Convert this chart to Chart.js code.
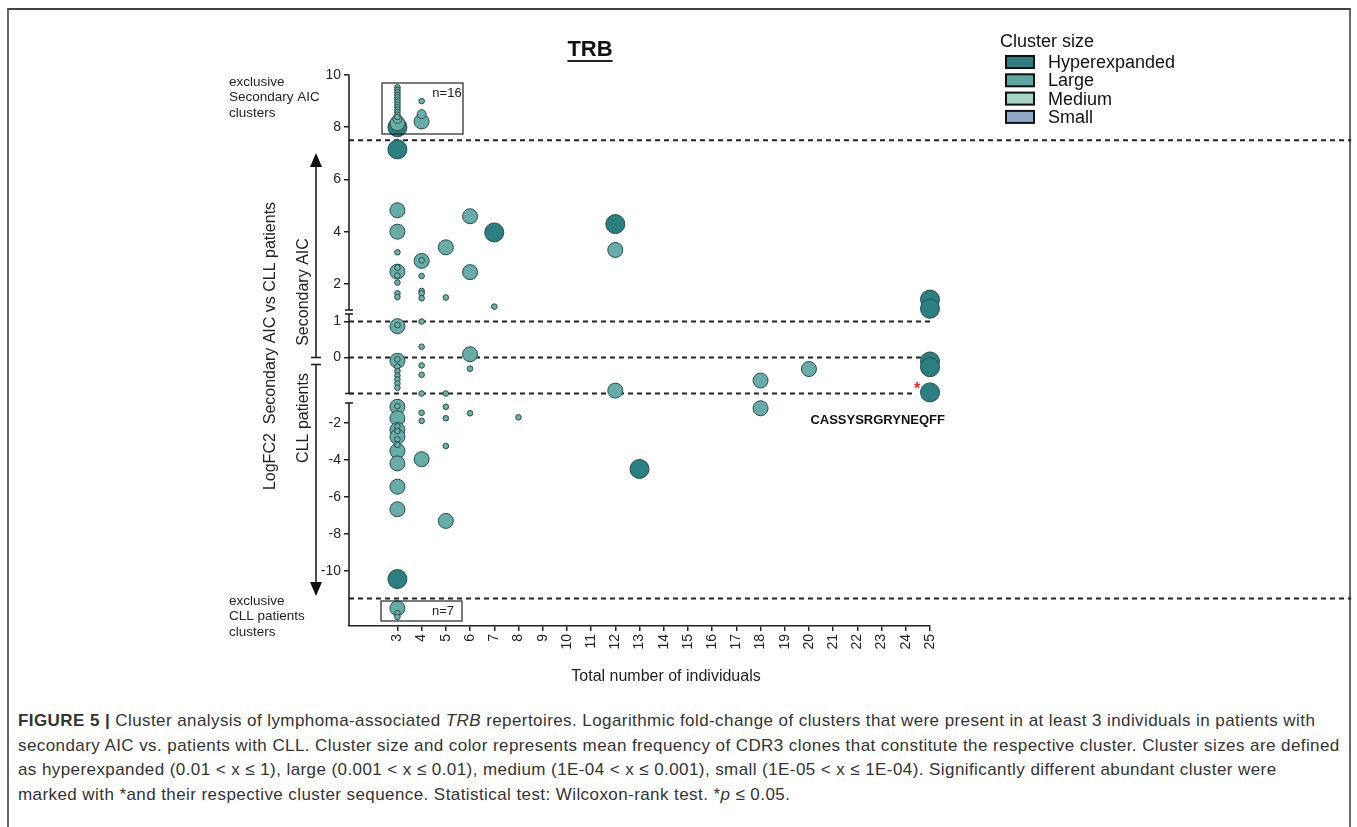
<!DOCTYPE html>
<html>
<head>
<meta charset="utf-8">
<script src="https://cdn.jsdelivr.net/npm/chart.js@4.4.1/dist/chart.umd.min.js"></script>
<style>
  body { margin: 0; background: #fff; width: 1357px; height: 827px; position: relative; overflow: hidden; font-family: 'Liberation Sans', Arial, sans-serif; }
  #frame { position: absolute; left: 7px; top: 8px; width: 1344px; height: 900px; border: 2px solid #6a6a6a; border-top-color: #444; box-sizing: border-box; }
  #wrap { position: absolute; left: 0; top: 0; width: 1357px; height: 705px; }
  #caption { position: absolute; left: 18px; top: 709px; font-size: 17px; letter-spacing: 0.42px; line-height: 24.7px; color: #333; white-space: nowrap; }
</style>
</head>
<body>
<div id="frame"></div>
<div id="wrap"><canvas id="chart"></canvas></div>
<div id="caption">
  <b>FIGURE 5 |</b> Cluster analysis of lymphoma-associated <i>TRB</i> repertoires. Logarithmic fold-change of clusters that were present in at least 3 individuals in patients with<br>
  secondary AIC vs. patients with CLL. Cluster size and color represents mean frequency of CDR3 clones that constitute the respective cluster. Cluster sizes are defined<br>
  as hyperexpanded (0.01 &lt; x ≤ 1), large (0.001 &lt; x ≤ 0.01), medium (1E-04 &lt; x ≤ 0.001), small (1E-05 &lt; x ≤ 1E-04). Significantly different abundant cluster were<br>
  marked with *and their respective cluster sequence. Statistical test: Wilcoxon-rank test. *<i>p</i> ≤ 0.05.
</div>
<script>
// x = total number of individuals, y = LogFC2 (secondary AIC vs CLL)
const hyperX = [3, 3, 7, 12, 13, 3, 25, 25, 25, 25, 25]
const hyperY = [8.0, 7.15, 3.97, 4.29, -4.5, -10.45, 1.4, 1.05, -0.11, -0.27, -0.97]

const largeX = [3, 3, 3, 3, 3, 3, 3, 3, 3, 3, 3, 3, 3, 3, 3, 4, 4, 4, 5, 5, 6, 6, 6, 12, 12, 18, 18, 20]
const largeY = [8.15, 4.82, 4.0, 2.47, 0.87, -0.09, -1.14, -1.76, -2.39, -2.76, -3.53, -4.2, -5.46, -6.68, -12.03,
                8.22, 2.88, -3.97, 3.4, -7.31, 4.59, 2.45, 0.09, 3.3, -0.92, -0.64, -1.22, -0.32]

const mediumX = [3, 4]
const mediumY = [8.32, 8.5]

const smallX = [3, 3, 3, 3, 3, 3, 3, 3, 3, 3, 3, 3, 3,
                3, 3, 3, 3, 3, 3,
                3, 3, 3, 3, 3, 3, 3, 3,
                3, 3, 3, 3, 3, 3, 3,
                4, 4, 4, 4, 4, 4, 4, 4, 4, 4, 4, 4, 4,
                5, 5, 5, 5, 5, 6, 6, 7, 8]
const smallY = [9.53, 9.43, 9.34, 9.24, 9.15, 9.05, 8.96, 8.86, 8.77, 8.67, 8.58, 8.48, 8.39,
                3.21, 2.62, 2.32, 2.05, 1.64, 1.5,
                0.9, -0.05, -0.25, -0.38, -0.5, -0.61, -0.72, -0.84,
                -1.1, -2.2, -2.45, -2.9, -3.2, -12.3, -12.5,
                9.0, 2.9, 2.3, 1.73, 1.64, 1.45, 1.0, 0.3, -0.22, -0.48, -1.0, -1.46, -1.9,
                1.48, -1.0, -1.14, -1.76, -3.26, -0.31, -1.49, 1.13, -1.71]

const xTicks = [3, 4, 5, 6, 7, 8, 9, 10, 11, 12, 13, 14, 15, 16, 17, 18, 19, 20, 21, 22, 23, 24, 25]
const yTicks = [10, 8, 6, 4, 2, 1, 0, -2, -4, -6, -8, -10]

// dashed thresholds and how far (in x units) each one runs
const refY = [7.5, 1, 0, -1, -11.5]
const refEnd = [42.4, 25, 25, 24.3, 42.4]

const legendLabels = ['Hyperexpanded', 'Large', 'Medium', 'Small']
const legendColors = ['#2f7f82', '#5ea7a2', '#a6d4c4', '#8ea9c9']

// broken y axis: three linear pieces stacked in one scale
const AXIS_SPAN = 551
const pieces = [
  { hi: 10, lo: 1, p0: 0, p1: 235 },
  { hi: 1, lo: -1, p0: 246.5, p1: 318.5 },
  { hi: -2, lo: -10, p0: 347.7, p1: 495.7 }
]
function pieceFor(v) {
  if (v > 1.02) return pieces[0]
  if (v >= -1.05) return pieces[1]
  return pieces[2]
}
function offsetFor(v) {
  const s = pieceFor(v)
  return s.p0 + (s.hi - v) * (s.p1 - s.p0) / (s.hi - s.lo)
}

class BrokenScale extends Chart.LinearScale {
  getPixelForValue(value) {
    return this.top + offsetFor(value) * (this.bottom - this.top) / AXIS_SPAN
  }
  getValueForPixel(pixel) {
    const o = (pixel - this.top) * AXIS_SPAN / (this.bottom - this.top)
    const s = o <= 237 ? pieces[0] : (o <= 323 ? pieces[1] : pieces[2])
    return s.hi - (o - s.p0) * (s.hi - s.lo) / (s.p1 - s.p0)
  }
}
BrokenScale.id = 'broken'
BrokenScale.defaults = Chart.LinearScale.defaults
Chart.register(BrokenScale)

const pts = (xs, ys) => xs.map((x, i) => ({ x: x, y: ys[i] }))
const FONT = "'Liberation Sans', Arial, sans-serif"

const decor = {
  id: 'decor',
  afterDraw(chart) {
    const ctx = chart.ctx
    const xs = chart.scales.x, ys = chart.scales.y
    const op = o => ys.top + o * (ys.bottom - ys.top) / AXIS_SPAN
    const ax = xs.left
    const seg = (x1, y1, x2, y2) => { ctx.beginPath(); ctx.moveTo(x1, y1); ctx.lineTo(x2, y2); ctx.stroke() }
    ctx.save()
    ctx.strokeStyle = '#222'
    ctx.lineWidth = 1.6

    // y axis pieces with break caps
    seg(ax, op(0), ax, op(235)); seg(ax - 4, op(235), ax + 4, op(235))
    seg(ax, op(239), ax, op(318.5)); seg(ax - 4, op(239), ax + 4, op(239)); seg(ax - 4, op(318.5), ax + 4, op(318.5))
    seg(ax, op(328), ax, op(AXIS_SPAN)); seg(ax - 4, op(328), ax + 4, op(328))

    // direction arrows left of the axis
    const arx = 316
    const up = ys.getPixelForValue(0), down = up + 7
    seg(arx, up, arx, 160); seg(arx - 5, up, arx + 5, up)
    seg(arx, down, arx, 590); seg(arx - 5, down, arx + 5, down)
    ctx.fillStyle = '#111'
    ctx.beginPath(); ctx.moveTo(arx, 153); ctx.lineTo(arx - 6, 167); ctx.lineTo(arx + 6, 167); ctx.closePath(); ctx.fill()
    ctx.beginPath(); ctx.moveTo(arx, 596); ctx.lineTo(arx - 6, 582); ctx.lineTo(arx + 6, 582); ctx.closePath(); ctx.fill()

    // rotated axis titles
    const vtext = (t, x, y) => { ctx.save(); ctx.translate(x, y); ctx.rotate(-Math.PI / 2); ctx.fillText(t, 0, 0); ctx.restore() }
    ctx.fillStyle = '#222'
    ctx.font = '16px ' + FONT
    ctx.textAlign = 'center'; ctx.textBaseline = 'middle'
    vtext('LogFC2  Secondary AIC vs CLL patients', 271, 346)
    vtext('Secondary AIC', 304, 292)
    vtext('CLL patients', 304, 418)
    ctx.fillText('Total number of individuals', 666, 677)

    // side notes
    ctx.font = '13.5px ' + FONT
    ctx.textAlign = 'left'
    ;['exclusive', 'Secondary AIC', 'clusters'].forEach((t, i) => ctx.fillText(t, 229, 82 + i * 15.7))
    ;['exclusive', 'CLL patients', 'clusters'].forEach((t, i) => ctx.fillText(t, 229, 601 + i * 15.7))

    // n boxes
    ctx.lineWidth = 1.2
    ctx.strokeRect(382, 83, 81, 51)
    ctx.strokeRect(381, 601, 81, 20)
    ctx.font = '13px ' + FONT
    ctx.textAlign = 'center'
    ctx.fillText('n=16', 447, 93)
    ctx.fillText('n=7', 443, 611)

    // significant cluster
    const sx = xs.getPixelForValue(25), sy = ys.getPixelForValue(-0.97)
    ctx.fillStyle = '#e8262a'
    ctx.font = 'bold 16px ' + FONT
    ctx.fillText('*', sx - 13, sy - 3)
    ctx.fillStyle = '#111'
    ctx.font = 'bold 13px ' + FONT
    ctx.textAlign = 'right'
    ctx.fillText('CASSYSRGRYNEQFF', sx + 15, sy + 28)

    // title
    ctx.textAlign = 'center'
    ctx.font = 'bold 22px ' + FONT
    ctx.fillText('TRB', 590, 50)
    const tw = ctx.measureText('TRB').width
    ctx.lineWidth = 2
    seg(590 - tw / 2, 61, 590 + tw / 2, 61)

    // legend
    ctx.textAlign = 'left'
    ctx.font = '18px ' + FONT
    ctx.fillText('Cluster size', 1000, 42)
    legendLabels.forEach((t, i) => {
      const cy = 62 + i * 18.3
      ctx.fillStyle = legendColors[i]
      ctx.fillRect(1006, cy - 6, 28, 12)
      ctx.strokeStyle = '#111'
      ctx.lineWidth = 2
      ctx.strokeRect(1006, cy - 6, 28, 12)
      ctx.fillStyle = '#111'
      ctx.fillText(t, 1048, cy + 1)
    })
    ctx.restore()
  }
}

const refSets = refY.map((v, i) => ({
  type: 'line',
  data: [{ x: 1, y: v }, { x: refEnd[i], y: v }],
  borderColor: '#222',
  borderWidth: 2,
  borderDash: [5, 4],
  pointRadius: 0,
  clip: false,
  order: 10
}))

const dot = (data, r, fill, order) => ({
  type: 'scatter',
  data: data,
  pointRadius: r,
  pointHoverRadius: r,
  backgroundColor: fill,
  borderColor: '#2a4b4b',
  borderWidth: 1,
  clip: false,
  order: order
})

new Chart(document.getElementById('chart'), {
  type: 'scatter',
  data: {
    datasets: [
      dot(pts(smallX, smallY), 2.8, '#6cb0ab', 0),
      dot(pts(mediumX, mediumY), 4.5, '#6cb0ab', 1),
      dot(pts(largeX, largeY), 7.5, '#66aca8', 2),
      dot(pts(hyperX, hyperY), 9.5, '#2a7f80', 3)
    ].concat(refSets)
  },
  options: {
    responsive: true,
    maintainAspectRatio: false,
    animation: false,
    events: [],
    layout: { padding: { left: 289, right: 427, top: 75, bottom: 19 } },
    scales: {
      x: {
        type: 'linear',
        min: 1,
        max: 25,
        afterFit: s => { s.height = 60 },
        afterBuildTicks: s => { s.ticks = xTicks.map(v => ({ value: v })) },
        grid: { drawOnChartArea: false, color: '#222', lineWidth: 1.5, tickLength: 5 },
        border: { color: '#222', width: 1.6 },
        ticks: { autoSkip: false, minRotation: 90, maxRotation: 90, color: '#222', font: { size: 14, family: FONT }, padding: 3 }
      },
      y: {
        type: 'broken',
        min: -13,
        max: 10,
        afterFit: s => { s.width = 60 },
        afterBuildTicks: s => { s.ticks = yTicks.map(v => ({ value: v })) },
        grid: { drawOnChartArea: false, color: '#222', lineWidth: 1.5, tickLength: 5 },
        border: { display: false },
        ticks: { autoSkip: false, color: '#222', font: { size: 14, family: FONT }, padding: 3 }
      }
    },
    plugins: {
      legend: { display: false },
      tooltip: { enabled: false }
    }
  },
  plugins: [decor]
})
</script>
</body>
</html>
